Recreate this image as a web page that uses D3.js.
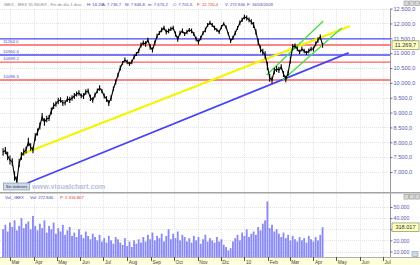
<!DOCTYPE html>
<html>
<head>
<meta charset="utf-8">
<script src="https://cdn.jsdelivr.net/npm/d3@7"></script>
<style>
  body { margin: 0; background: #fff; }
  svg { display: block; font-family: "Liberation Sans", Arial, sans-serif; }
</style>
</head>
<body>
<div id="chart"></div>
<script>
const startDate = "2009-02-20";
const stepDays = 3;

const closes = [
  7673, 7724, 7539, 7404, 7337, 6865, 6697, 7303, 7539, 7673,
  7741, 8010, 7842, 7741, 8178, 8347, 8549, 8852, 8684, 8785,
  8818, 9054, 9222, 9290, 9391, 9424, 9323, 9330, 9458, 9424,
  9492, 9559, 9626, 9660, 9565, 9555, 9694, 9727, 9492, 9424,
  9593, 9727, 9828, 9727, 9559, 9458, 9323, 9492, 9795, 10030,
  10266, 10502, 10670, 10771, 10704, 10636, 10704, 10872, 10973, 11074,
  11276, 11343, 11310, 11444, 11209, 11108, 11343, 11579, 11680, 11781,
  11848, 11714, 11747, 11815, 11848, 11646, 11478, 11680, 11747, 11646,
  11714, 11781, 11747, 11646, 11478, 11377, 11512, 11680, 11781, 11949,
  12017, 11949, 11848, 11781, 11714, 11882, 11983, 11882, 11646, 11411,
  11512, 11680, 11848, 12017, 12118, 12219, 12185, 12118, 12051, 11949,
  11714, 11377, 11141, 11040, 10939, 10569, 10165, 10098, 10401, 10468,
  10434, 10535, 10300, 10131, 10333, 10771, 11209, 11242, 11141, 11040,
  11141, 11074, 11007, 11074, 11141, 11141, 11310, 11444, 11545, 11269.7
];

// high-low range of each bar, in index points
const ranges = [
  260, 240, 280, 300, 250, 320, 300, 290, 260, 240,
  230, 280, 250, 220, 260, 240, 230, 270, 250, 220,
  200, 230, 210, 190, 220, 180, 200, 170, 190, 210,
  180, 200, 170, 190, 160, 200, 180, 170, 210, 190,
  170, 160, 180, 150, 170, 190, 200, 180, 160, 170,
  150, 170, 140, 160, 150, 130, 150, 160, 140, 150,
  170, 160, 180, 150, 190, 170, 160, 150, 140, 160,
  150, 170, 160, 140, 150, 170, 180, 150, 160, 140,
  150, 140, 160, 130, 150, 170, 150, 140, 160, 130,
  140, 130, 150, 120, 140, 130, 110, 100, 110, 130,
  140, 150, 130, 160, 140, 150, 170, 160, 180, 200,
  190, 220, 240, 210, 250, 280, 260, 240, 220, 200,
  210, 190, 200, 220, 180, 230, 200, 170, 160, 150,
  170, 150, 140, 160, 150, 170, 160, 180, 170, 170
];

const volumes = [
  30000, 34000, 28000, 36000, 32000, 38000, 29000, 33000, 40000, 31000,
  35000, 37000, 30000, 42000, 33000, 29000, 35000, 31000, 38000, 27000,
  33000, 30000, 36000, 26000, 31000, 28000, 34000, 25000, 29000, 32000,
  24000, 27000, 23000, 30000, 25000, 22000, 28000, 24000, 21000, 26000,
  23000, 20000, 25000, 19000, 22000, 18000, 24000, 20000, 17000, 23000,
  21000, 18000, 16000, 22000, 15000, 19000, 14000, 20000, 17000, 21000,
  18000, 23000, 19000, 25000, 21000, 27000, 20000, 24000, 22000, 26000,
  19000, 24000, 30000, 21000, 26000, 22000, 28000, 20000, 25000, 23000,
  19000, 22000, 18000, 24000, 20000, 23000, 17000, 21000, 25000, 19000,
  22000, 20000, 18000, 23000, 19000, 21000, 16000, 14000, 11000, 13000,
  19000, 22000, 25000, 20000, 27000, 24000, 30000, 23000, 26000, 28000,
  25000, 32000, 29000, 35000, 38000, 55000, 31000, 34000, 28000, 30000,
  26000, 23000, 27000, 22000, 25000, 20000, 24000, 21000, 19000, 23000,
  20000, 22000, 18000, 24000, 21000, 19000, 23000, 20000, 25000, 31800
];

// horizontal levels
const blueLevels = [11480, 10940.6];
const blueLabels = ["", "10940.6"];
const redLevels = [11276, 10699.2, 10096.5];
const redLabels = ["11264.0", "10699.2", "10096.5"];

// trend lines: [date, price] pairs
const yellowTrend = [["2009-03-14", 7572], ["2010-05-19", 11916]];
const blueTrend = [["2009-03-24", 6630], ["2010-05-17", 11007]];
const greenTrends = [
  [["2010-01-30", 10266], ["2010-04-14", 12084]],
  [["2010-02-20", 10098], ["2010-05-08", 11848]]
];

const priceTicks = [7000, 7500, 8000, 8500, 9000, 9500, 10000, 10500, 11000, 11500, 12000, 12500];
const volumeTicks = [10000, 20000, 30000, 40000, 50000];
const monthLabels = ["Mar", "Apr", "May", "Jun", "Jul", "Aug", "Sep", "Oct", "Nov", "Dic",
                     "10", "Feb", "Mar", "Apr", "May", "Jun", "Jul"];

const titleParts = [".IBEX - IBEX 35 INDEX - Fin de día 1 días", "H: 16:26", "A: 7.736,7",
                    "M: 7.846,8", "m: 7.675,2", "C: 7.701,6", "F: 12.720,4", "V: 272.846", "F: 16/03/2009"];
const volumeTitle = ["Vol_.IBEX", "Vol: 272.846", "P: 2.316.807"];
const lastVolumeText = "318.017";

// ---------------------------------------------------------------
const width = 420;
const height = 265;
const plotRight = 390;
const priceTop = 9, priceBottom = 192;
const volTop = 194, volBottom = 257;

const svg = d3.select("#chart")
    .append("svg")
    .attr("width", width)
    .attr("height", height);

const parse = d3.timeParse("%Y-%m-%d");
const locale = d3.formatLocale({decimal: ",", thousands: ".", grouping: [3], currency: ["", ""]});
const fmtPrice = locale.format(",.1f");
const fmtVol = locale.format(",.0f");

const x = d3.scaleTime()
    .domain([parse("2009-02-16"), parse("2010-07-10")])
    .range([0, plotRight]);
const yPrice = d3.scaleLinear().domain([7000, 12500]).range([172, 8.6]);
const yVol = d3.scaleLinear().domain([10000, 50000]).range([251.5, 207]);

const series = closes.map((c, i) => ({
    date: d3.timeDay.offset(parse(startDate), i * stepDays),
    close: c,
    range: ranges[i],
    volume: volumes[i]
}));

// clip paths for the panes
const defs = svg.append("defs");
defs.append("clipPath").attr("id", "clipPrice")
    .append("rect").attr("x", 0).attr("y", priceTop).attr("width", plotRight).attr("height", priceBottom - priceTop);
defs.append("clipPath").attr("id", "clipVol")
    .append("rect").attr("x", 0).attr("y", volTop).attr("width", plotRight).attr("height", volBottom - volTop);

// bottom date band
svg.append("rect")
    .attr("x", 0).attr("y", volBottom).attr("width", width).attr("height", height - volBottom)
    .attr("fill", "#ffffdc");

// grid
const months = x.ticks(d3.timeMonth.every(1)).filter(d => d >= parse("2009-03-01"));
const grid = svg.append("g").attr("stroke", "#dcdcdc").attr("stroke-dasharray", "1,1").attr("stroke-width", 0.8);
grid.selectAll(".vgp").data(months).enter().append("line")
    .attr("x1", d => Math.round(x(d)) + 0.5).attr("x2", d => Math.round(x(d)) + 0.5)
    .attr("y1", priceTop).attr("y2", priceBottom);
grid.selectAll(".vgv").data(months).enter().append("line")
    .attr("x1", d => Math.round(x(d)) + 0.5).attr("x2", d => Math.round(x(d)) + 0.5)
    .attr("y1", volTop).attr("y2", volBottom);
grid.selectAll(".hgp").data(priceTicks).enter().append("line")
    .attr("x1", 0).attr("x2", plotRight)
    .attr("y1", d => Math.round(yPrice(d)) + 0.5).attr("y2", d => Math.round(yPrice(d)) + 0.5);
grid.selectAll(".hgv").data(volumeTicks).enter().append("line")
    .attr("x1", 0).attr("x2", plotRight)
    .attr("y1", d => Math.round(yVol(d)) + 0.5).attr("y2", d => Math.round(yVol(d)) + 0.5);

// volume bars
const step = x(d3.timeDay.offset(parse(startDate), stepDays)) - x(parse(startDate));
const barW = step * 0.8;
svg.append("g").attr("clip-path", "url(#clipVol)")
    .selectAll("rect").data(series).enter().append("rect")
    .attr("x", d => x(d.date) - barW / 2)
    .attr("y", d => yVol(d.volume))
    .attr("width", barW)
    .attr("height", d => volBottom - yVol(d.volume))
    .attr("fill", "#8a8af2");

// price pane
const pricePane = svg.append("g").attr("clip-path", "url(#clipPrice)");

// horizontal levels
const levelG = pricePane.append("g");
levelG.selectAll(".blue").data(blueLevels).enter().append("line")
    .attr("x1", 0).attr("x2", plotRight)
    .attr("y1", d => yPrice(d)).attr("y2", d => yPrice(d))
    .attr("stroke", "#4a4af6").attr("stroke-width", 1.4);
levelG.selectAll(".red").data(redLevels).enter().append("line")
    .attr("x1", 0).attr("x2", plotRight)
    .attr("y1", d => yPrice(d)).attr("y2", d => yPrice(d))
    .attr("stroke", "#ff5c5c").attr("stroke-width", 1.4);

const labelData = blueLevels.map((v, i) => ({v, t: blueLabels[i]}))
    .concat(redLevels.map((v, i) => ({v, t: redLabels[i]})))
    .filter(d => d.t);
levelG.selectAll("text").data(labelData).enter().append("text")
    .attr("x", 3).attr("y", d => yPrice(d.v) - 1.8)
    .attr("font-size", 4.4).attr("fill", "#5050c8")
    .text(d => d.t);

// trend lines
const trendLine = d3.line().x(d => x(parse(d[0]))).y(d => yPrice(d[1]));
pricePane.append("path").attr("d", trendLine(yellowTrend))
    .attr("stroke", "#f4f400").attr("stroke-width", 2).attr("fill", "none");
pricePane.append("path").attr("d", trendLine(blueTrend))
    .attr("stroke", "#4646f2").attr("stroke-width", 1.8).attr("fill", "none");
pricePane.selectAll(".green").data(greenTrends).enter().append("path")
    .attr("d", d => trendLine(d))
    .attr("stroke", "#44dd44").attr("stroke-width", 1.3).attr("fill", "none");

// price: close line plus high-low bars
const priceLine = d3.line().x(d => x(d.date)).y(d => yPrice(d.close));
pricePane.append("path").datum(series)
    .attr("d", priceLine)
    .attr("fill", "none").attr("stroke", "#000").attr("stroke-width", 1.1);
pricePane.append("g").selectAll("line").data(series).enter().append("line")
    .attr("x1", d => x(d.date)).attr("x2", d => x(d.date))
    .attr("y1", d => yPrice(d.close + d.range / 2))
    .attr("y2", d => yPrice(d.close - d.range / 2))
    .attr("stroke", "#000").attr("stroke-width", 1.1);

// right axes
svg.append("rect").attr("x", plotRight).attr("y", priceTop).attr("width", width - plotRight).attr("height", priceBottom - priceTop).attr("fill", "#fff");
svg.append("line").attr("x1", plotRight + 0.5).attr("x2", plotRight + 0.5).attr("y1", priceTop).attr("y2", volBottom)
    .attr("stroke", "#9a9a9a");

const last = series[series.length - 1];
const volBoxY = yVol(last.volume);

const axisP = svg.append("g").attr("transform", `translate(${plotRight},0)`)
    .call(d3.axisRight(yPrice).tickValues(priceTicks).tickFormat(fmtPrice).tickSize(2.5).tickPadding(1));
const axisV = svg.append("g").attr("transform", `translate(${plotRight},0)`)
    .call(d3.axisRight(yVol).tickValues(volumeTicks).tickFormat(fmtVol).tickSize(2.5).tickPadding(1));
[axisP, axisV].forEach(g => {
    g.select(".domain").remove();
    g.selectAll("line").attr("stroke", "#6a6aa8");
    g.selectAll("text").attr("fill", "#5a5ab0").attr("font-family", "Liberation Sans, Arial, sans-serif");
});
axisP.selectAll("text").attr("font-size", 5.6);
axisV.selectAll("text").attr("font-size", 5.2);
// the last-value box hides the tick label under it
axisV.selectAll(".tick").filter(d => Math.abs(yVol(d) - volBoxY) < 6).select("text").remove();

// last value boxes
function valueBox(yv, txt) {
    svg.append("rect").attr("x", 392).attr("y", yv - 4.3).attr("width", 27).attr("height", 8.6)
        .attr("fill", "#ffffc0").attr("stroke", "#7a7a50").attr("stroke-width", 0.6);
    svg.append("text").attr("x", 405.5).attr("y", yv + 2).attr("text-anchor", "middle")
        .attr("font-size", 5.6).attr("fill", "#333").text(txt);
}
valueBox(yPrice(last.close), fmtPrice(last.close));
valueBox(volBoxY, lastVolumeText);

// pane separator
svg.append("line").attr("x1", 0).attr("x2", width).attr("y1", 192.8).attr("y2", 192.8)
    .attr("stroke", "#a4a4a4").attr("stroke-width", 1.6);

// bottom axis
const xAxis = svg.append("g");
xAxis.append("line").attr("x1", 0).attr("x2", width).attr("y1", volBottom + 0.5).attr("y2", volBottom + 0.5)
    .attr("stroke", "#b0b0b0");
xAxis.selectAll(".tick").data(months).enter().append("line")
    .attr("x1", d => Math.round(x(d)) + 0.5).attr("x2", d => Math.round(x(d)) + 0.5)
    .attr("y1", volBottom).attr("y2", volBottom + 4)
    .attr("stroke", "#555");
xAxis.selectAll("text").data(months).enter().append("text")
    .attr("x", d => x(d) + 1.5).attr("y", 264)
    .attr("font-size", 4.8).attr("fill", "#444")
    .text((d, i) => monthLabels[i]);

// header of price pane
const titleX = [3, 87, 102, 125, 148, 173, 197, 225, 247];
const titleColor = ["#8a8a8a", "#4848b8", "#4848b8", "#4848b8", "#4848b8", "#4848b8", "#e03030", "#4848b8", "#4848b8"];
svg.selectAll(".title").data(titleParts).enter().append("text")
    .attr("x", (d, i) => titleX[i]).attr("y", 5.6)
    .attr("font-size", 4.2)
    .attr("fill", (d, i) => titleColor[i])
    .text(d => d);

// header of volume pane
const volX = [5, 30, 60];
const volColor = ["#4848b8", "#4848b8", "#e03030"];
svg.selectAll(".vtitle").data(volumeTitle).enter().append("text")
    .attr("x", (d, i) => volX[i]).attr("y", 198.5)
    .attr("font-size", 4.2)
    .attr("fill", (d, i) => volColor[i])
    .text(d => d);

// window buttons
function buttons(y0) {
    [404, 409.5, 415].forEach(bx => {
        svg.append("rect").attr("x", bx).attr("y", y0).attr("width", 4.6).attr("height", 4.6)
            .attr("fill", "#d6d6d6").attr("stroke", "#8a8a8a").attr("stroke-width", 0.5);
    });
}
buttons(1);
buttons(194.5);
svg.append("rect").attr("x", 412).attr("y", 251.5).attr("width", 6).attr("height", 5)
    .attr("fill", "#d0d8e8").attr("stroke", "#7890b0").attr("stroke-width", 0.5);

// "Sin órdenes" button and watermark
svg.append("rect").attr("x", 3.5).attr("y", 183).attr("width", 26).attr("height", 7)
    .attr("fill", "#cfdbeb").attr("stroke", "#6f88ab").attr("stroke-width", 0.6);
svg.append("text").attr("x", 16.5).attr("y", 188.3).attr("text-anchor", "middle")
    .attr("font-size", 4).attr("fill", "#333").text("Sin órdenes");
svg.append("text").attr("x", 32).attr("y", 189)
    .attr("font-size", 7.2).attr("font-weight", "bold").attr("fill", "#b4c2dc")
    .text("www.visualchart.com");
</script>
</body>
</html>
